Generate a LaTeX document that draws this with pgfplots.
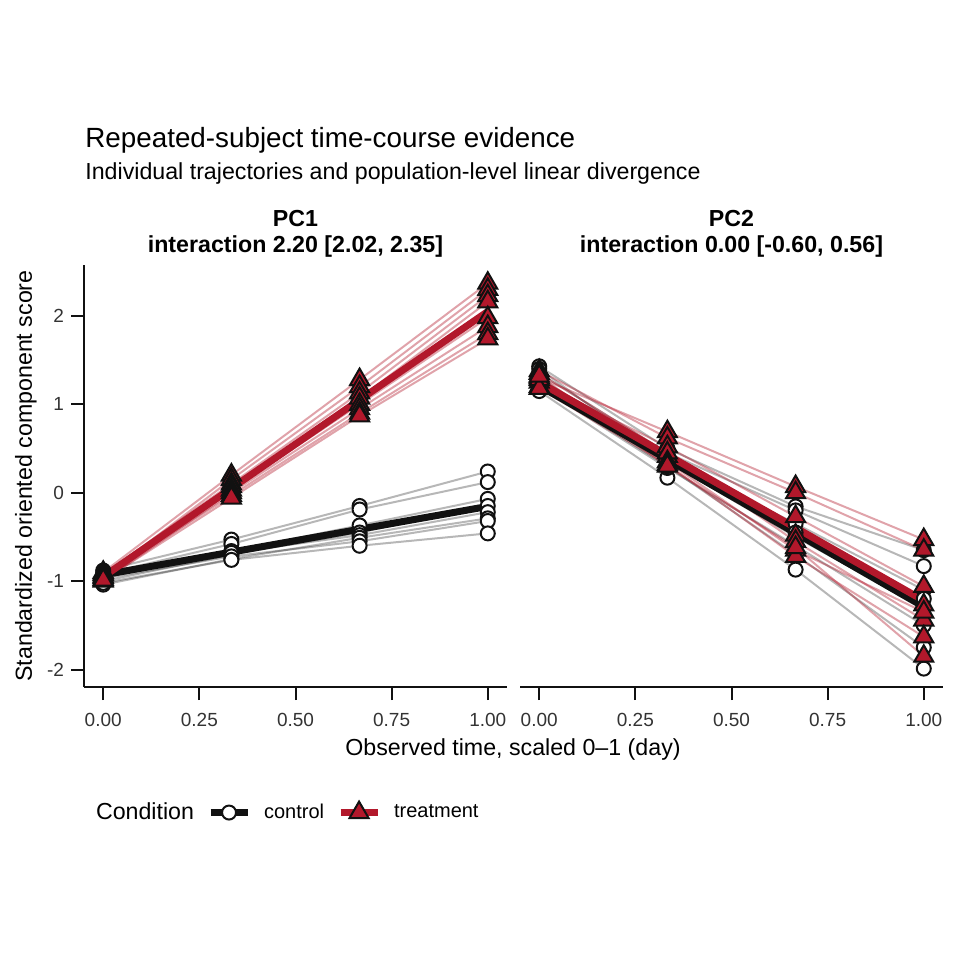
\documentclass[border=0pt]{standalone}
\usepackage{fontspec}
\setmainfont{Liberation Sans}
\usepackage{pgfplots}
\usepackage{pgfplotstable}
\pgfplotsset{compat=1.18}
\definecolor{ctrl}{RGB}{17,17,17}
\definecolor{trt}{RGB}{178,24,43}

% PC1 individual trajectories
\pgfplotstableread{
t C1 C2 C3 C4 C5 C6 C7 C8
0 -0.88 -0.92 -0.95 -1.00 -0.90 -1.04 -0.97 -1.02
0.3333 -0.53 -0.58 -0.66 -0.70 -0.68 -0.75 -0.72 -0.76
0.6667 -0.15 -0.19 -0.37 -0.45 -0.48 -0.51 -0.55 -0.60
1 0.24 0.12 -0.07 -0.15 -0.22 -0.29 -0.32 -0.46
}\pcOneCtrl
\pgfplotstableread{
t C1 C2 C3 C4 C5 C6 C7 C8
0 -0.90 -0.95 -0.92 -0.98 -0.93 -1.00 -0.96 -0.99
0.3333 0.20 0.15 0.10 0.07 0.03 0.00 -0.03 -0.06
0.6667 1.28 1.20 1.13 1.07 1.00 0.95 0.90 0.87
1 2.37 2.30 2.23 2.16 1.98 1.88 1.80 1.74
}\pcOneTrt
% PC2 individual trajectories
\pgfplotstableread{
t C1 C2 C3 C4 C5 C6 C7 C8
0 1.43 1.35 1.15 1.30 1.25 1.40 1.20 1.22
0.3333 0.50 0.45 0.17 0.38 0.42 0.35 0.28 0.30
0.6667 -0.155 -0.20 -0.87 -0.35 -0.45 -0.50 -0.60 -0.70
1 -0.65 -0.83 -1.99 -1.10 -1.20 -1.30 -1.50 -1.75
}\pcTwoCtrl
\pgfplotstableread{
t C1 C2 C3 C4 C5 C6 C7 C8
0 1.30 1.38 1.25 1.20 1.35 1.28 1.18 1.32
0.3333 0.69 0.62 0.52 0.41 0.45 0.35 0.32 0.30
0.6667 0.07 0.00 -0.27 -0.48 -0.55 -0.65 -0.72 -0.62
1 -0.53 -0.65 -1.06 -1.27 -1.44 -1.35 -1.63 -1.85
}\pcTwoTrt
% population-level linear fits
\pgfplotstableread{
t ctrl trt
0 -0.93 -0.95
1 -0.155 2.05
}\pcOneMean
\pgfplotstableread{
t ctrl trt
0 1.21 1.25
1 -1.29 -1.22
}\pcTwoMean

\pgfplotsset{
  panel/.style={
    scale only axis, width=211.5pt, height=211pt,
    xmin=-0.05, xmax=1.05, ymin=-2.198, ymax=2.576,
    xtick={0,0.25,0.5,0.75,1},
    xticklabels={0.00,0.25,0.50,0.75,1.00},
    tick align=outside, major tick length=6.5pt,
    tick style={line width=1pt, color=ctrl},
    axis line style={line width=1pt, color=ctrl},
    axis x line*=bottom,
    clip=false,
    tick label style={font=\fontsize{9.5}{11}\selectfont, color=black!80},
    xticklabel style={yshift=-3pt},
    /pgf/number format/assume math mode=true,
  },
  indivC/.style={forget plot, no markers, draw=ctrl, draw opacity=0.3, line width=1pt},
  indivT/.style={forget plot, no markers, draw=trt, draw opacity=0.4, line width=1pt},
  meanC/.style={forget plot, no markers, draw=ctrl, line width=3.5pt},
  meanT/.style={forget plot, no markers, draw=trt, line width=3.5pt},
  ptsC/.style={forget plot, only marks, mark=*, mark size=3.5pt, mark options={fill=white, draw=ctrl, line width=1pt}},
  ptsT/.style={forget plot, only marks, mark=triangle*, mark size=5.5pt, mark options={fill=trt, draw=ctrl, line width=1pt}},
}

\begin{document}
\begin{tikzpicture}
\path[use as bounding box] (0pt,0pt) rectangle (480pt,-480pt);

% ---------- PC1 ----------
\begin{axis}[panel, at={(42pt,-343.5pt)}, anchor=south west,
  axis y line*=left,
  ytick={-2,-1,0,1,2}, yticklabels={-2,-1,0,1,2},
  legend columns=3,
  legend image code/.code={\draw[mark repeat=2,mark phase=2,#1] plot coordinates {(0pt,0pt) (9.25pt,0pt) (18.5pt,0pt)};},
  legend style={at={(-0.0023,-0.2962)}, anchor=west, draw=none, fill=none,
    inner sep=0pt, outer sep=0pt, column sep=6.5pt,
    nodes={inner sep=0pt}, font=\fontsize{10}{12}\selectfont},
]
\pgfplotsinvokeforeach{1,...,8}{\addplot[indivC] table[x=t,y=C#1]{\pcOneCtrl};}
\pgfplotsinvokeforeach{1,...,8}{\addplot[indivT] table[x=t,y=C#1]{\pcOneTrt};}
\addplot[meanC] table[x=t,y=ctrl]{\pcOneMean};
\addplot[meanT] table[x=t,y=trt]{\pcOneMean};
\pgfplotsinvokeforeach{1,...,8}{\addplot[ptsC] table[x=t,y=C#1]{\pcOneCtrl};}
\pgfplotsinvokeforeach{1,...,8}{\addplot[ptsT] table[x=t,y=C#1]{\pcOneTrt};}
\addlegendimage{empty legend}
\addlegendentry{\fontsize{11.6}{13}\selectfont Condition}
\addlegendimage{line width=3.5pt, draw=ctrl, mark=*, mark size=3.5pt, mark options={fill=white, draw=ctrl, line width=1pt}}
\addlegendentry{control}
\addlegendimage{line width=3.5pt, draw=trt, mark=triangle*, mark size=5.5pt, mark options={fill=trt, draw=ctrl, line width=1pt}}
\addlegendentry{treatment}
\end{axis}

% ---------- PC2 ----------
\begin{axis}[panel, at={(260pt,-343.5pt)}, anchor=south west,
  axis y line=none, ytick=\empty]
\pgfplotsinvokeforeach{1,...,8}{\addplot[indivC] table[x=t,y=C#1]{\pcTwoCtrl};}
\pgfplotsinvokeforeach{1,...,8}{\addplot[indivT] table[x=t,y=C#1]{\pcTwoTrt};}
\addplot[meanC] table[x=t,y=ctrl]{\pcTwoMean};
\addplot[meanT] table[x=t,y=trt]{\pcTwoMean};
\pgfplotsinvokeforeach{1,...,8}{\addplot[ptsC] table[x=t,y=C#1]{\pcTwoCtrl};}
\pgfplotsinvokeforeach{1,...,8}{\addplot[ptsT] table[x=t,y=C#1]{\pcTwoTrt};}
\end{axis}

% ---------- texts ----------
\node[anchor=base west, inner sep=0pt, font=\fontsize{13.9}{16}\selectfont] at (42.5pt,-73.5pt) {Repeated-subject time-course evidence};
\node[anchor=base west, inner sep=0pt, font=\fontsize{11.6}{13}\selectfont] at (42.5pt,-89.5pt) {Individual trajectories and population-level linear divergence};
\node[anchor=base, inner sep=0pt, font=\fontsize{11.6}{13}\selectfont\bfseries] at (147.75pt,-113pt) {PC1};
\node[anchor=base, inner sep=0pt, font=\fontsize{11.6}{13}\selectfont\bfseries] at (147.75pt,-126pt) {interaction 2.20 [2.02, 2.35]};
\node[anchor=base, inner sep=0pt, font=\fontsize{11.6}{13}\selectfont\bfseries] at (365.75pt,-113pt) {PC2};
\node[anchor=base, inner sep=0pt, font=\fontsize{11.6}{13}\selectfont\bfseries] at (365.75pt,-126pt) {interaction 0.00 [-0.60, 0.56]};
\node[anchor=base, inner sep=0pt, rotate=90, font=\fontsize{11.6}{13}\selectfont] at (16pt,-238pt) {Standardized oriented component score};
\node[anchor=base, inner sep=0pt, font=\fontsize{11.6}{13}\selectfont] at (256.5pt,-377.5pt) {Observed time, scaled 0–1 (day)};
\end{tikzpicture}
\end{document}
